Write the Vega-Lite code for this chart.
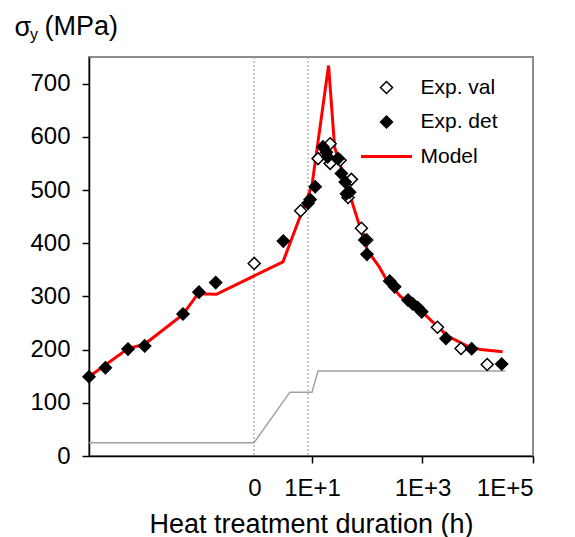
{
  "$schema": "https://vega.github.io/schema/vega-lite/v6.json",
  "width": 444,
  "height": 399,
  "autosize": {"type": "none"},
  "padding": {"left": 89, "top": 57, "right": 42, "bottom": 81},
  "background": "white",
  "title": {
    "text": "(MPa)", "anchor": "start", "frame": "group", "orient": "top",
    "dx": -44.5, "offset": -49, "baseline": "alphabetic",
    "fontSize": 27, "fontWeight": "normal", "color": "black", "font": "Liberation Sans"
  },
  "config": {
    "font": "Liberation Sans",
    "view": {"stroke": "#8c8c8c", "strokeWidth": 2},
    "axis": {"grid": false}
  },
  "datasets": {
    "model": [
      {"u": -3.036, "v": 149, "s": "Model"},
      {"u": -2.33, "v": 202, "s": "Model"},
      {"u": -2.03, "v": 210, "s": "Model"},
      {"u": -1.335, "v": 266, "s": "Model"},
      {"u": -1.063, "v": 305, "s": "Model"},
      {"u": -0.73, "v": 304, "s": "Model"},
      {"u": 0.475, "v": 365, "s": "Model"},
      {"u": 1.0, "v": 509, "s": "Model"},
      {"u": 1.30, "v": 734, "s": "Model"},
      {"u": 1.41, "v": 580, "s": "Model"},
      {"u": 1.62, "v": 512, "s": "Model"},
      {"u": 2.0, "v": 387, "s": "Model"},
      {"u": 2.22, "v": 355, "s": "Model"},
      {"u": 2.35, "v": 331, "s": "Model"},
      {"u": 2.6, "v": 300, "s": "Model"},
      {"u": 3.05, "v": 265, "s": "Model"},
      {"u": 3.45, "v": 226, "s": "Model"},
      {"u": 3.8, "v": 207, "s": "Model"},
      {"u": 4.05, "v": 200, "s": "Model"},
      {"u": 4.45, "v": 196, "s": "Model"}
    ],
    "pts": [
      {"u": -0.046, "v": 362, "s": "Exp. val"},
      {"u": 0.795, "v": 461, "s": "Exp. val"},
      {"u": 1.109, "v": 559, "s": "Exp. val"},
      {"u": 1.329, "v": 587, "s": "Exp. val"},
      {"u": 1.329, "v": 550, "s": "Exp. val"},
      {"u": 1.51, "v": 556, "s": "Exp. val"},
      {"u": 1.713, "v": 520, "s": "Exp. val"},
      {"u": 1.652, "v": 486, "s": "Exp. val"},
      {"u": 1.894, "v": 428, "s": "Exp. val"},
      {"u": 1.99, "v": 406, "s": "Exp. val"},
      {"u": 3.27, "v": 242, "s": "Exp. val"},
      {"u": 3.697, "v": 202, "s": "Exp. val"},
      {"u": 4.171, "v": 172, "s": "Exp. val"},
      {"u": -3.036, "v": 149, "s": "Exp. det"},
      {"u": -2.739, "v": 166, "s": "Exp. det"},
      {"u": -2.33, "v": 201, "s": "Exp. det"},
      {"u": -2.028, "v": 207, "s": "Exp. det"},
      {"u": -1.335, "v": 267, "s": "Exp. det"},
      {"u": -1.045, "v": 308, "s": "Exp. det"},
      {"u": -0.743, "v": 326, "s": "Exp. det"},
      {"u": 0.481, "v": 404, "s": "Exp. det"},
      {"u": 0.928, "v": 475, "s": "Exp. det"},
      {"u": 0.967, "v": 482, "s": "Exp. det"},
      {"u": 1.058, "v": 506, "s": "Exp. det"},
      {"u": 1.199, "v": 581, "s": "Exp. det"},
      {"u": 1.261, "v": 571, "s": "Exp. det"},
      {"u": 1.284, "v": 562, "s": "Exp. det"},
      {"u": 1.471, "v": 559, "s": "Exp. det"},
      {"u": 1.532, "v": 531, "s": "Exp. det"},
      {"u": 1.601, "v": 515, "s": "Exp. det"},
      {"u": 1.623, "v": 493, "s": "Exp. det"},
      {"u": 1.682, "v": 496, "s": "Exp. det"},
      {"u": 1.954, "v": 406, "s": "Exp. det"},
      {"u": 1.995, "v": 379, "s": "Exp. det"},
      {"u": 2.406, "v": 329, "s": "Exp. det"},
      {"u": 2.497, "v": 318, "s": "Exp. det"},
      {"u": 2.738, "v": 293, "s": "Exp. det"},
      {"u": 2.823, "v": 286, "s": "Exp. det"},
      {"u": 2.913, "v": 279, "s": "Exp. det"},
      {"u": 2.986, "v": 271, "s": "Exp. det"},
      {"u": 3.425, "v": 221, "s": "Exp. det"},
      {"u": 3.89, "v": 201.5, "s": "Exp. det"},
      {"u": 4.433, "v": 173, "s": "Exp. det"}
    ],
    "temp": [
      {"u": -3.036, "v": 25},
      {"u": -0.05, "v": 25},
      {"u": 0.6, "v": 120},
      {"u": 1.0, "v": 120},
      {"u": 1.11, "v": 160},
      {"u": 4.5, "v": 160}
    ],
    "vlines": [{"u": -0.05}, {"u": 0.928}]
  },
  "resolve": {"axis": {"y": "independent"}},
  "layer": [
    {
      "layer": [
        {
          "data": {"name": "vlines"},
          "mark": {"type": "rule", "color": "#a6a6a6", "strokeWidth": 1.2, "strokeDash": [2, 2]},
          "encoding": {
            "x": {"field": "u", "type": "quantitative", "scale": {"domain": [-3.036, 5], "nice": false, "zero": false}}
          }
        },
        {
          "data": {"name": "temp"},
          "mark": {"type": "line", "color": "#a0a0a0", "strokeWidth": 1.5},
          "encoding": {
            "x": {"field": "u", "type": "quantitative"},
            "y": {"field": "v", "type": "quantitative"}
          }
        },
        {
          "data": {"name": "model"},
          "mark": {"type": "line", "strokeWidth": 3},
          "encoding": {
            "x": {"field": "u", "type": "quantitative"},
            "y": {"field": "v", "type": "quantitative"},
            "stroke": {
              "field": "s", "type": "nominal",
              "scale": {"domain": ["Exp. val", "Exp. det", "Model"], "range": ["black", "black", "#ff0000"]},
              "legend": {
                "title": null, "orient": "none", "legendX": 287, "legendY": 20, "padding": 0,
                "symbolSize": 144, "symbolStrokeWidth": 1.5, "labelFontSize": 21, "labelOffset": 23.5,
                "rowPadding": 12.5, "labelColor": "black", "labelFont": "Liberation Sans",
                "encode": {"symbols": {"update": {
                  "shape": {"signal": "datum.value === 'Model' ? 'stroke' : 'diamond'"},
                  "size": {"signal": "datum.value === 'Model' ? 2601 : 144"},
                  "strokeWidth": {"signal": "datum.value === 'Model' ? 3 : 1.5"}
                }}}
              }
            }
          }
        },
        {
          "data": {"name": "pts"},
          "mark": {"type": "point", "shape": "diamond", "size": 144, "strokeWidth": 1.5, "opacity": 1},
          "encoding": {
            "x": {
              "field": "u", "type": "quantitative",
              "axis": {
                "title": "Heat treatment duration (h)",
                "values": [-0.04, 1, 3, 5],
                "labelExpr": "datum.value < 0 ? '0' : '1E+' + datum.value",
                "tickOpacity": {"condition": {"test": "datum.value < 0", "value": 0}, "value": 1},
                "labelFontSize": 24, "labelColor": "black", "labelPadding": 13,
                "tickSize": 7, "tickColor": "black", "tickWidth": 1.5,
                "domainColor": "black", "domainWidth": 1.5,
                "titleFontSize": 27, "titleFontWeight": "normal", "titleColor": "black",
                "titleBaseline": "alphabetic", "titleY": 76
              }
            },
            "y": {
              "field": "v", "type": "quantitative",
              "scale": {"domain": [0, 750], "nice": false},
              "axis": {
                "title": "σ",
                "values": [0, 100, 200, 300, 400, 500, 600, 700],
                "labelFontSize": 24, "labelColor": "black", "labelPadding": 12,
                "tickSize": 7, "tickColor": "black", "tickWidth": 1.5,
                "domainColor": "black", "domainWidth": 1.5,
                "titleFontSize": 27, "titleFontWeight": "normal", "titleColor": "black",
                "titleAngle": 0, "titleAlign": "left", "titleBaseline": "alphabetic",
                "titleX": -75, "titleY": -22
              }
            },
            "stroke": {
              "field": "s", "type": "nominal",
              "scale": {"domain": ["Exp. val", "Exp. det", "Model"], "range": ["black", "black", "#ff0000"]},
              "legend": {
                "title": null, "orient": "none", "legendX": 287, "legendY": 20, "padding": 0,
                "symbolSize": 144, "symbolStrokeWidth": 1.5, "labelFontSize": 21, "labelOffset": 23.5,
                "rowPadding": 12.5, "labelColor": "black", "labelFont": "Liberation Sans",
                "encode": {"symbols": {"update": {
                  "shape": {"signal": "datum.value === 'Model' ? 'stroke' : 'diamond'"},
                  "size": {"signal": "datum.value === 'Model' ? 2601 : 144"},
                  "strokeWidth": {"signal": "datum.value === 'Model' ? 3 : 1.5"}
                }}}
              }
            },
            "fill": {
              "field": "s", "type": "nominal",
              "scale": {"domain": ["Exp. val", "Exp. det", "Model"], "range": ["white", "black", "transparent"]},
              "legend": {
                "title": null, "orient": "none", "legendX": 287, "legendY": 20, "padding": 0,
                "symbolSize": 144, "symbolStrokeWidth": 1.5, "labelFontSize": 21, "labelOffset": 23.5,
                "rowPadding": 12.5, "labelColor": "black", "labelFont": "Liberation Sans",
                "encode": {"symbols": {"update": {
                  "shape": {"signal": "datum.value === 'Model' ? 'stroke' : 'diamond'"},
                  "size": {"signal": "datum.value === 'Model' ? 2601 : 144"},
                  "strokeWidth": {"signal": "datum.value === 'Model' ? 3 : 1.5"}
                }}}
              }
            }
          }
        }
      ]
    },
    {
      "data": {"name": "temp"},
      "mark": {"type": "rule", "strokeOpacity": 0},
      "encoding": {
        "y": {
          "field": "v", "type": "quantitative",
          "axis": {
            "orient": "left", "title": "y", "labels": false, "ticks": false, "domain": false,
            "titleFontSize": 16, "titleFontWeight": "normal", "titleColor": "black",
            "titleAngle": 0, "titleAlign": "left", "titleBaseline": "alphabetic",
            "titleX": -59.5, "titleY": -17.5
          }
        }
      }
    }
  ]
}
